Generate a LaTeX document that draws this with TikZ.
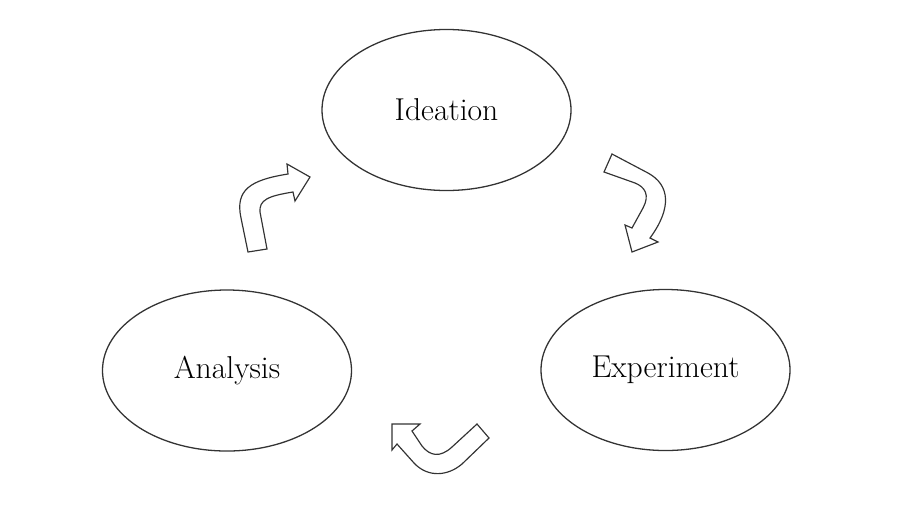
\documentclass[tikz,border=0pt]{standalone}
\usetikzlibrary{shapes}

\begin{document}
\begin{tikzpicture}[x=0.03cm,y=-0.03cm,
  phase/.style={ellipse,draw=black!80,line width=1.1pt,minimum width=7.47cm,minimum height=4.83cm,inner sep=0pt,font=\fontsize{27}{32}\selectfont},
  turn/.style={draw=black!80,line width=1pt,line join=miter,fill=white}]
\useasboundingbox (0,0) rectangle (900,519);
\node[phase] (ideation) at (446.5,110) {Ideation};
\node[phase] (analysis) at (227,370.5) {Analysis};
\node[phase] (experiment) at (665.5,370) {Experiment};
\draw[turn] (248,252) -- (241,218) .. controls (235,190) and (250,180) .. (288,174) -- (287,164) -- (310,177) -- (295,201) -- (293,192) .. controls (268,196) and (259,200) .. (260,212) -- (267,249) -- cycle;
\draw[turn] (612,154) -- (648,173) .. controls (670,185) and (672,208) .. (650,238) -- (658,242) -- (632,252) -- (625,225) -- (632,228) -- (643,208) .. controls (650,195) and (645,187) .. (635,183) -- (604,172) -- cycle;
\draw[turn] (477,424) -- (452,447) .. controls (440,458) and (430,456) .. (422,446) -- (412,431) -- (420,424) -- (392,424) -- (392,450) -- (397,444) -- (414,463) .. controls (428,478) and (448,476) .. (462,464) -- (489,438) -- cycle;
\end{tikzpicture}
\end{document}
